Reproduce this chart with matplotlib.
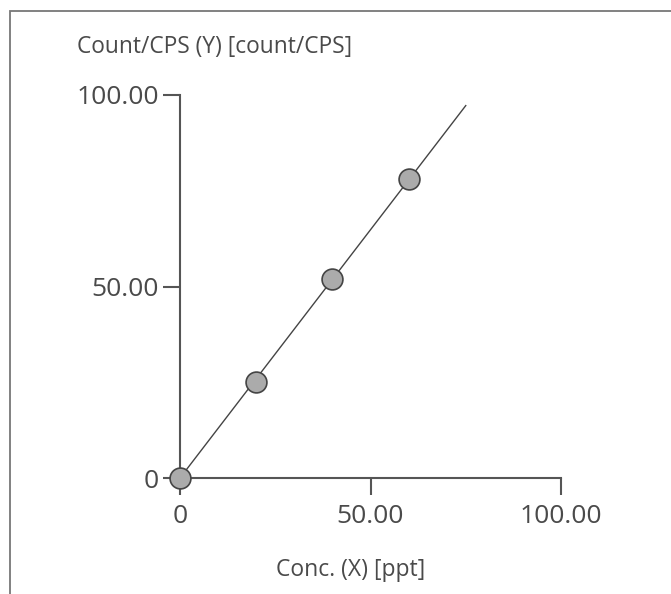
import numpy as np
import matplotlib
matplotlib.use("Agg")
import matplotlib.pyplot as plt
from matplotlib.patches import Rectangle

# calibration points
conc = [0, 20, 40, 60]
counts = [0, 25, 52, 78]
line_x = [0, 75]
tick_vals = [0, 50, 100]
tick_labels = ["0", "50.00", "100.00"]
xlabel = "Conc. (X) [ppt]"
ylabel = "Count/CPS (Y) [count/CPS]"

plt.rcParams['font.family'] = ['Open Sans', 'DejaVu Sans']
txt = "#4a4a4a"
axc = "#555555"

W, H = 671, 594
fig = plt.figure(figsize=(W/100, H/100), dpi=100)

# frame (only top / left edges show in the picture)
fig.patches.append(Rectangle((10/W, -0.1), 1.2, (H-11)/H + 0.1, transform=fig.transFigure,
                             fill=False, edgecolor="#777777", linewidth=1.3))

ax = fig.add_axes([180/W, (H-478)/H, 381/W, 383/H])

# regression line through origin
slope = np.sum(np.array(conc)*np.array(counts)) / np.sum(np.array(conc)**2)
lx = np.array(line_x)
ax.plot(lx, slope*lx, color="#444444", lw=1.0, clip_on=False, zorder=2)
ax.plot(conc, counts, 'o', ms=15, mfc="#ababab", mec="#444444", mew=1.2,
        clip_on=False, zorder=3)

ax.set_xlim(0, 100)
ax.set_ylim(0, 100)
ax.set_xticks(tick_vals)
ax.set_xticklabels(tick_labels)
ax.set_yticks(tick_vals)
ax.set_yticklabels(tick_labels)

for s in ["top", "right"]:
    ax.spines[s].set_visible(False)
for s in ["left", "bottom"]:
    ax.spines[s].set_color(axc)
    ax.spines[s].set_linewidth(1.5)

ax.tick_params(axis='x', direction='out', length=12, width=1.5, color=axc,
               labelsize=19, labelcolor=txt, pad=7)
ax.tick_params(axis='y', direction='out', length=12, width=1.5, color=axc,
               labelsize=19, labelcolor=txt, pad=3)
ax.set_facecolor("none")

fig.text(77/W, 1 - 47/H, ylabel, fontsize=16.4, color=txt, ha='left', va='center')
fig.text(351/W, 1 - 570/H, xlabel, fontsize=16.5, color=txt, ha='center', va='center')

fig.savefig("out.png", dpi=100)
